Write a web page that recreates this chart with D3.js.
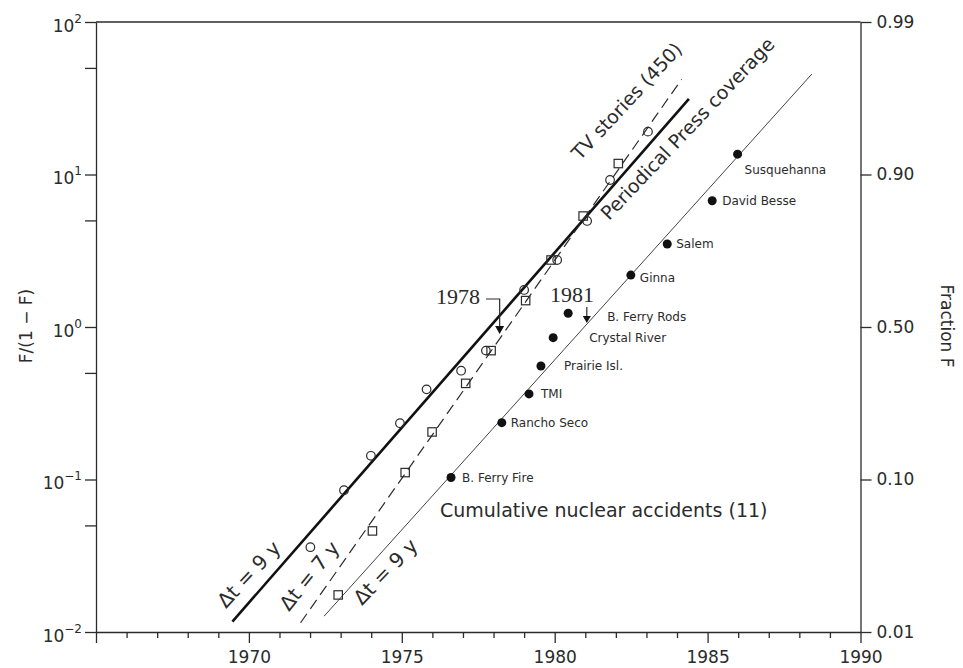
<!DOCTYPE html>
<html><head><meta charset="utf-8">
<script src="https://cdn.jsdelivr.net/npm/d3@7"></script>
<style>body{margin:0;background:#fff}svg{display:block}</style>
</head><body>
<svg id="chart" width="963" height="668"></svg>
<script>
// ---- data ----
const pressYears  = [1972.01, 1973.11, 1973.99, 1974.94, 1975.81, 1976.94, 1977.75, 1979.0, 1980.08, 1981.06, 1981.81, 1983.05];
const pressValues = [0.036, 0.085, 0.143, 0.234, 0.39, 0.517, 0.70, 1.75, 2.75, 4.96, 9.2, 19.1];
const tvYears  = [1972.92, 1974.04, 1975.11, 1975.99, 1977.09, 1977.92, 1979.05, 1979.88, 1980.93, 1982.08];
const tvValues = [0.0175, 0.046, 0.111, 0.205, 0.427, 0.70, 1.49, 2.75, 5.34, 11.8];
const accidentNames  = ["B. Ferry Fire", "Rancho Seco", "TMI", "Prairie Isl.", "Crystal River", "B. Ferry Rods", "Ginna", "Salem", "David Besse", "Susquehanna"];
const accidentYears  = [1976.61, 1978.27, 1979.16, 1979.55, 1979.95, 1980.44, 1982.49, 1983.68, 1985.15, 1985.98];
const accidentValues = [0.103, 0.236, 0.364, 0.555, 0.851, 1.23, 2.19, 3.50, 6.73, 13.6];
const fitPressYears = [1969.46, 1984.39];
const fitPressValues = [0.0117, 31.3];
const fitTvYears = [1971.69, 1984.15];
const fitTvValues = [0.0115, 42.1];
const fitAccYears = [1972.46, 1988.41];
const fitAccValues = [0.0127, 45.6];
const xMajorTicks = [1965, 1970, 1975, 1980, 1985, 1990];
const leftTickValues = [100, 10, 1, 0.1, 0.01];
const leftTickExps = ["2", "1", "0", "\u22121", "\u22122"];
const leftMinorTicks = [50, 5, 0.5, 0.05];
const rightTickValues = [100, 10, 1, 0.1, 0.01];
const rightTickLabels = ["0.99", "0.90", "0.50", "0.10", "0.01"];
const annotationYears = [1978.2, 1981.05];
const annotationLabels = ["1978", "1981"];

// ---- layout / style ----
const INK = "#2b2b2b";
const SANS = "DejaVu Sans, sans-serif";
const labelOffsets = [[11,0],[9,0],[12,0],[23,0],[36,0],[39,3],[9,3],[9,0],[10,0],[7,15]];

const svg = d3.select("#chart");
const x = d3.scaleLinear().domain([1965, 1990]).range([96, 860.5]);
const y = d3.scaleLog().domain([0.01, 100]).range([632, 22]);

function styleAxis(g){
  g.selectAll("path,line").attr("stroke", INK).attr("stroke-width", 1.3);
  g.selectAll("text").attr("fill", INK).attr("font-family", SANS).attr("font-size", 17);
}

// bottom axis
const gx = svg.append("g").attr("transform", `translate(0,${y(0.01)})`)
  .call(d3.axisBottom(x).tickValues(xMajorTicks).tickSize(11).tickSizeOuter(0).tickPadding(8)
    .tickFormat(d => d === 1965 ? "" : d));
styleAxis(gx);
const minorYears = d3.range(1966, 1990).filter(d => d % 5 !== 0);
const gxm = svg.append("g").attr("transform", `translate(0,${y(0.01)})`)
  .call(d3.axisBottom(x).tickValues(minorYears).tickSize(6).tickFormat(""));
gxm.select(".domain").remove();
styleAxis(gxm);

// left axis
const gy = svg.append("g").attr("transform", `translate(${x(1965)},0)`)
  .call(d3.axisLeft(y).tickValues(leftTickValues.concat(leftMinorTicks)).tickSize(11).tickSizeOuter(0).tickFormat(""));
styleAxis(gy);
leftTickValues.forEach((v, i) => {
  const t = svg.append("text").attr("x", 82).attr("y", y(v) + 9.5)
    .attr("text-anchor", "end").attr("font-family", SANS).attr("font-size", 17).attr("fill", INK);
  t.append("tspan").text("10");
  t.append("tspan").attr("dy", -9).attr("font-size", 12).text(leftTickExps[i]);
});

// right axis
const gr = svg.append("g").attr("transform", `translate(${x(1990)},0)`)
  .call(d3.axisRight(y).tickValues(rightTickValues).tickSize(11).tickSizeOuter(0).tickPadding(5)
    .tickFormat((d, i) => rightTickLabels[i]));
styleAxis(gr);

// top border
svg.append("line").attr("x1", x(1965)).attr("x2", x(1990)).attr("y1", y(100)).attr("y2", y(100))
  .attr("stroke", INK).attr("stroke-width", 1.3);

// axis titles
svg.append("text").attr("transform", "translate(27,326) rotate(-90)").attr("text-anchor", "middle")
  .attr("dominant-baseline", "middle").attr("font-family", SANS).attr("font-size", 17).attr("fill", INK)
  .text("F/(1 \u2212 F)");
svg.append("text").attr("transform", "translate(946,326) rotate(90)").attr("text-anchor", "middle")
  .attr("dominant-baseline", "middle").attr("font-family", SANS).attr("font-size", 17).attr("fill", INK)
  .text("Fraction F");

// fit lines
const line = d3.line().x(d => x(d[0])).y(d => y(d[1]));
svg.append("path").datum(d3.zip(fitPressYears, fitPressValues)).attr("d", line)
  .attr("fill", "none").attr("stroke", "#111").attr("stroke-width", 2.6);
svg.append("path").datum(d3.zip(fitTvYears, fitTvValues)).attr("d", line)
  .attr("fill", "none").attr("stroke", INK).attr("stroke-width", 1.2).attr("stroke-dasharray", "11,6");
svg.append("path").datum(d3.zip(fitAccYears, fitAccValues)).attr("d", line)
  .attr("fill", "none").attr("stroke", "#444").attr("stroke-width", 1);

// points
svg.append("g").selectAll("circle").data(d3.zip(pressYears, pressValues)).join("circle")
  .attr("cx", d => x(d[0])).attr("cy", d => y(d[1])).attr("r", 4.3)
  .attr("fill", "#fff").attr("fill-opacity", 0).attr("stroke", INK).attr("stroke-width", 1.2);
svg.append("g").selectAll("rect").data(d3.zip(tvYears, tvValues)).join("rect")
  .attr("x", d => x(d[0]) - 4.2).attr("y", d => y(d[1]) - 4.2).attr("width", 8.4).attr("height", 8.4)
  .attr("fill", "none").attr("stroke", INK).attr("stroke-width", 1.2);
const acc = d3.zip(accidentYears, accidentValues, accidentNames);
svg.append("g").selectAll("circle").data(acc).join("circle")
  .attr("cx", d => x(d[0])).attr("cy", d => y(d[1])).attr("r", 4.5).attr("fill", "#111");
svg.append("g").selectAll("text").data(acc).join("text")
  .attr("x", (d, i) => x(d[0]) + labelOffsets[i][0]).attr("y", (d, i) => y(d[1]) + labelOffsets[i][1] + 4.4)
  .attr("font-family", SANS).attr("font-size", 12).attr("fill", INK).text(d => d[2]);

// rotated labels
function rlabel(txt, px, py, ang, size){
  svg.append("text").attr("transform", `translate(${px},${py}) rotate(${ang})`)
    .attr("font-family", SANS).attr("font-size", size).attr("fill", INK).text(txt);
}
rlabel("TV stories (450)", 580, 161, -47, 19);
rlabel("Periodical Press coverage", 609, 221, -46.5, 19);
rlabel("\u0394t = 9 y", 226, 609, -47, 20);
rlabel("\u0394t = 7 y", 289, 612, -51, 20);
rlabel("\u0394t = 9 y", 362, 606, -46, 20);

svg.append("text").attr("x", 440).attr("y", 517).attr("font-family", SANS).attr("font-size", 19)
  .attr("fill", INK).text("Cumulative nuclear accidents (11)");

// annotations 1978 / 1981
const SERIF = "Liberation Serif, serif";
const ax0 = x(annotationYears[0]);
svg.append("text").attr("x", 480).attr("y", 304).attr("text-anchor", "end").attr("font-family", SERIF)
  .attr("font-size", 22).attr("fill", INK).text(annotationLabels[0]);
svg.append("path").attr("d", `M486,299H${ax0}V327`).attr("fill", "none").attr("stroke", INK).attr("stroke-width", 1.2);
svg.append("path").attr("d", `M${ax0-4.5},326L${ax0+4.5},326L${ax0},334Z`).attr("fill", "#111");
const ax1 = x(annotationYears[1]);
svg.append("text").attr("x", 572).attr("y", 302).attr("text-anchor", "middle").attr("font-family", SERIF)
  .attr("font-size", 22).attr("fill", INK).text(annotationLabels[1]);
svg.append("path").attr("d", `M${ax1},307V317`).attr("fill", "none").attr("stroke", INK).attr("stroke-width", 1.2);
svg.append("path").attr("d", `M${ax1-4},316L${ax1+4},316L${ax1},323Z`).attr("fill", "#111");
</script>
</body></html>
